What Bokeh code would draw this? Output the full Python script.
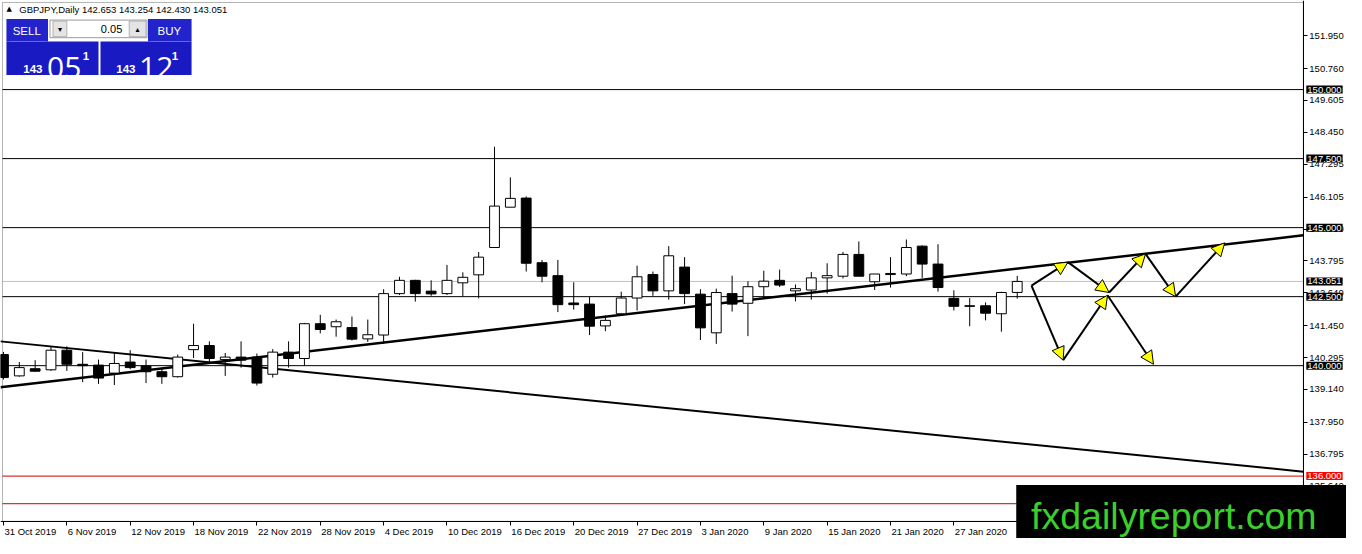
from bokeh.plotting import figure
from bokeh.models import (ColumnDataSource, Label, BoxAnnotation, Arrow, NormalHead,
                          FixedTicker, Range1d, NumeralTickFormatter, LinearAxis)
from bokeh.embed import file_html
from bokeh.resources import INLINE

# ---------------- data ----------------
opens = [140.40, 139.63, 139.89, 139.85, 140.56, 140.05, 140.02, 139.73, 140.13, 139.99,
         139.78, 139.60, 140.58, 140.73, 140.22, 140.31, 140.31, 139.69, 140.49, 140.26,
         141.52, 141.41, 141.38, 140.97, 141.11, 142.61, 143.09, 142.70, 142.61, 143.00,
         143.29, 144.28, 145.74, 146.07, 143.73, 143.26, 142.27, 142.23, 141.44, 141.88,
         142.45, 143.30, 142.71, 143.57, 142.59, 141.19, 142.61, 142.26, 142.86, 143.09,
         142.71, 142.74, 143.18, 143.24, 144.03, 143.04, 143.30, 143.32, 144.33, 143.68,
         142.44, 142.17, 142.17, 141.88, 142.653]
highs = [140.50, 140.13, 140.20, 140.70, 140.70, 140.49, 140.22, 140.49, 140.56, 140.22,
         139.93, 140.40, 141.52, 140.88, 140.46, 140.88, 140.44, 140.60, 140.88, 141.55,
         141.84, 141.67, 141.78, 141.67, 142.77, 143.22, 143.11, 143.09, 143.65, 143.38,
         144.12, 147.93, 146.82, 146.13, 143.83, 143.83, 143.02, 142.49, 141.82, 142.68,
         143.62, 143.41, 144.33, 143.93, 142.77, 142.79, 143.26, 143.06, 143.44, 143.48,
         142.94, 143.39, 143.71, 144.12, 144.50, 143.32, 143.93, 144.57, 144.36, 144.40,
         142.73, 142.45, 142.29, 142.68, 143.254]
lows = [139.50, 139.60, 139.78, 139.81, 139.81, 139.40, 139.34, 139.30, 139.87, 139.37,
        139.34, 139.57, 140.28, 140.11, 139.63, 139.93, 139.28, 139.57, 139.93, 139.99,
        141.17, 141.05, 140.91, 140.86, 140.79, 142.56, 142.32, 142.53, 142.56, 142.51,
        142.44, 144.28, 145.74, 143.41, 143.02, 141.94, 142.03, 141.11, 141.25, 141.85,
        142.00, 142.53, 142.39, 142.23, 140.93, 140.79, 141.96, 141.07, 142.41, 142.85,
        142.33, 142.39, 142.61, 143.16, 143.24, 142.74, 142.83, 143.24, 143.18, 142.68,
        142.00, 141.43, 141.64, 141.23, 142.430]
closes = [139.57, 139.93, 139.80, 140.56, 140.05, 140.00, 139.55, 140.08, 139.93, 139.78,
          139.60, 140.31, 140.73, 140.26, 140.31, 140.20, 139.37, 140.49, 140.26, 141.52,
          141.31, 141.59, 140.96, 141.12, 142.61, 143.09, 142.61, 142.60, 143.09, 143.20,
          143.93, 145.78, 146.06, 143.71, 143.24, 142.21, 142.21, 141.43, 141.64, 142.45,
          143.22, 142.71, 143.98, 142.61, 141.37, 142.65, 142.23, 142.86, 143.06, 142.92,
          142.79, 143.18, 143.26, 144.03, 143.24, 143.32, 143.34, 144.28, 143.68, 142.83,
          142.15, 142.15, 141.90, 142.65, 143.051]

date_ticks = [0, 4, 8, 12, 16, 20, 24, 28, 32, 36, 40, 44, 48, 52, 56, 60]
date_labels = ["31 Oct 2019", "6 Nov 2019", "12 Nov 2019", "18 Nov 2019", "22 Nov 2019",
               "28 Nov 2019", "4 Dec 2019", "10 Dec 2019", "16 Dec 2019", "20 Dec 2019",
               "27 Dec 2019", "3 Jan 2020", "9 Jan 2020", "15 Jan 2020", "21 Jan 2020",
               "27 Jan 2020"]
price_ticks = [151.950, 150.760, 149.605, 148.450, 147.295, 146.105, 144.950, 143.795,
               142.640, 141.450, 140.295, 139.140, 137.950, 136.795, 135.640]

levels_black = [150.0, 147.5, 145.0, 142.5, 140.0]
levels_red = [136.0, 135.0]
bid = 143.051

desc_bar = [-0.19, 82.06]
desc_price = [140.88, 136.16]
asc_bar = [-0.19, 82.06]
asc_price = [139.22, 144.72]

proj_up_bar = [64.9, 67.2, 69.8, 72.1, 74.0, 77.1]
proj_up_price = [142.9, 143.75, 142.65, 144.05, 142.5, 144.45]
proj_dn_bar = [64.9, 66.9, 69.7, 72.6]
proj_dn_price = [142.9, 140.2, 142.55, 140.05]

# ---------------- geometry ----------------
W, H = 1346, 538
SCX, SCY = 0.99, 0.979                     # reference pixels -> canvas pixels
PX_BAR, PX_PRICE = 16.0, 28.2              # reference pixels per bar / per price unit
REF_W, REF_H = W / SCX, H / SCY
X0, X1 = (0 - 3) / PX_BAR, (REF_W - 3) / PX_BAR
Y1, Y0 = 140 + 373 / PX_PRICE, 140 - (REF_H - 373) / PX_PRICE
XL, XR = (2 - 3) / PX_BAR, (1316 - 3) / PX_BAR          # chart area left / price axis
YT, YB = 140 + (373 - 2) / PX_PRICE, 140 - (532 - 373) / PX_PRICE
CANVAS_PX_BAR = PX_BAR * SCX

p = figure(width=W, height=H, output_backend="svg", toolbar_location=None,
           x_range=Range1d(X0, X1), y_range=Range1d(Y0, Y1),
           y_axis_location="right", min_border=0,
           min_border_left=0, min_border_right=0, min_border_top=0, min_border_bottom=0,
           background_fill_color="white", border_fill_color="white")
p.outline_line_color = None
p.xgrid.visible = False
p.ygrid.visible = False

FONT = "Liberation Sans"
AXFS = "9.5px"

def style_axis(ax):
    ax.axis_line_color = "black"
    ax.major_tick_line_color = "black"
    ax.minor_tick_line_color = None
    ax.major_tick_in = 0
    ax.major_tick_out = 4
    ax.major_label_text_font = FONT
    ax.major_label_text_font_size = AXFS
    ax.major_label_text_color = "black"
    ax.major_label_standoff = 2

# price axis drawn at the right edge of the chart area
yax = p.yaxis[0]
style_axis(yax)
yax.fixed_location = XR
yax.ticker = FixedTicker(ticks=price_ticks)
yax.formatter = NumeralTickFormatter(format="0.000")

# date axis: tick marks
xax = p.xaxis[0]
style_axis(xax)
xax.fixed_location = YB
xax.bounds = (X0, XR)
xax.ticker = FixedTicker(ticks=date_ticks)
xax.major_label_overrides = {t: "" for t in date_ticks}

# date axis: labels, left-aligned at their tick (label centres shifted by half width)
AW = {" ": .278, "O": .778, "c": .5, "t": .278, "N": .722, "o": .556, "v": .5,
      "D": .722, "e": .556, "J": .5, "a": .556, "n": .556}
def text_w(s, size=9.5):
    return sum(AW.get(ch, .556) for ch in s) * size

lab_ticks = [round(t + (text_w(s) / 2 + 1) / CANVAS_PX_BAR, 4)
             for t, s in zip(date_ticks, date_labels)]
xlab = LinearAxis(fixed_location=YB, ticker=FixedTicker(ticks=lab_ticks),
                  major_label_overrides={t: s for t, s in zip(lab_ticks, date_labels)})
style_axis(xlab)
xlab.axis_line_color = None
xlab.major_tick_line_color = None
xlab.major_label_standoff = 1
p.add_layout(xlab, "below")

# chart border (left / top)
p.add_layout(BoxAnnotation(left=XL, right=XR, top=YT, bottom=YB, fill_color=None,
                           fill_alpha=0, line_color="black", line_width=1))

# horizontal levels
def hline(lv, color):
    p.segment(x0=[XL], y0=[lv], x1=[XR], y1=[lv], line_color=color, line_width=1)
for lv in levels_black:
    hline(lv, "black")
for lv in levels_red:
    hline(lv, "#d00000")
hline(bid, "#c0c0c0")

# trend lines
p.line(desc_bar, desc_price, line_color="black", line_width=2)
p.line(asc_bar, asc_price, line_color="black", line_width=2.5)

# candles
idx = list(range(len(opens)))
up = [c >= o for o, c in zip(opens, closes)]
src = ColumnDataSource(dict(
    x=idx, o=opens, h=highs, l=lows, c=closes,
    top=[max(o, c) if abs(c - o) > 0.01 else o + 0.01 for o, c in zip(opens, closes)],
    bot=[min(o, c) for o, c in zip(opens, closes)],
    fill=["white" if u else "black" for u in up]))
p.segment(x0="x", y0="h", x1="x", y1="l", source=src, line_color="black", line_width=1)
p.vbar(x="x", width=0.62, top="top", bottom="bot", source=src,
       fill_color="fill", line_color="black", line_width=1)

# projection arrows
def add_path(bars, prices):
    for i in range(len(bars) - 1):
        p.add_layout(Arrow(end=NormalHead(size=13, fill_color="#ffff00", line_color="black",
                                          line_width=1),
                           x_start=bars[i], y_start=prices[i],
                           x_end=bars[i + 1], y_end=prices[i + 1],
                           line_color="black", line_width=2))
add_path(proj_up_bar, proj_up_price)
add_path(proj_dn_bar, proj_dn_price)

# ---------------- decorations (reference pixel positions) ----------------
def sx(rx):
    return rx * SCX

def sy(ry):
    return H - ry * SCY

# price labels on the axis
for lv, bg in [(v, "black") for v in levels_black + [bid]] + [(v, "#ff0000") for v in levels_red]:
    p.add_layout(Label(x=sx(1319), y=lv, x_units="screen", y_units="data", text=f"{lv:.3f}",
                       text_color="white", background_fill_color=bg,
                       text_font=FONT, text_font_size=AXFS, text_baseline="middle",
                       text_align="left", padding=1))

def box(x0, y0, x1, y1, color, line=None):
    p.add_layout(BoxAnnotation(left=sx(x0), right=sx(x1), top=sy(y0), bottom=sy(y1),
                               left_units="screen", right_units="screen",
                               top_units="screen", bottom_units="screen",
                               fill_color=color, fill_alpha=1,
                               line_color=line, line_alpha=1 if line else 0))

def txt(x, y, s, size, color="black", font=FONT, align="left", baseline="middle",
        style="normal"):
    p.add_layout(Label(x=sx(x), y=sy(y), x_units="screen", y_units="screen", text=s,
                       text_font=font, text_font_size=size, text_color=color,
                       text_align=align, text_baseline=baseline, text_font_style=style))

txt(6, 9, "▲", "7px", font="DejaVu Sans")
txt(19, 9, "GBPJPY,Daily  142.653 143.254 142.430 143.051", "9.5px")

BLUE = "#1a1ac2"
BTN = "#2323cc"
box(6, 19, 48, 42, BTN)
box(149, 19, 193, 42, BTN)
box(6, 42, 99, 76, BLUE)
box(101, 42, 193, 76, BLUE)
box(10, 41.5, 46, 42.5, "#7070f0")
box(152, 41.5, 190, 42.5, "#7070f0")
box(50, 20, 148, 38, "white", "#9a9a9a")
box(53, 21, 67, 37, "#e4e4e4", "#b0b0b0")
box(130, 21, 147, 37, "#e4e4e4", "#b0b0b0")
txt(26.5, 31, "SELL", "11.5px", "white", align="center")
txt(170.5, 31, "BUY", "11.5px", "white", align="center")
txt(60, 29.5, "▾", "8px", font="DejaVu Sans", align="center")
txt(138.5, 29.5, "▴", "8px", font="DejaVu Sans", align="center")
txt(123, 29.5, "0.05", "11px", align="right")
txt(23, 70, "143", "11.5px", "white", baseline="alphabetic", style="bold")
txt(47, 68.5, "05", "30px", "white", font="Open Sans", baseline="alphabetic")
txt(83, 57, "1", "11.5px", "white", baseline="alphabetic", style="bold")
txt(117, 70, "143", "11.5px", "white", baseline="alphabetic", style="bold")
txt(140, 68.5, "12", "30px", "white", font="Open Sans", baseline="alphabetic")
txt(173, 57, "1", "11.5px", "white", baseline="alphabetic", style="bold")

# watermark box
box(1026, 495, 1372, 560, "black")
txt(1041, 527, "fxdailyreport.com", "37.5px", "#3ccf2b", baseline="alphabetic")

open("out.html", "w").write(file_html(p, INLINE))
